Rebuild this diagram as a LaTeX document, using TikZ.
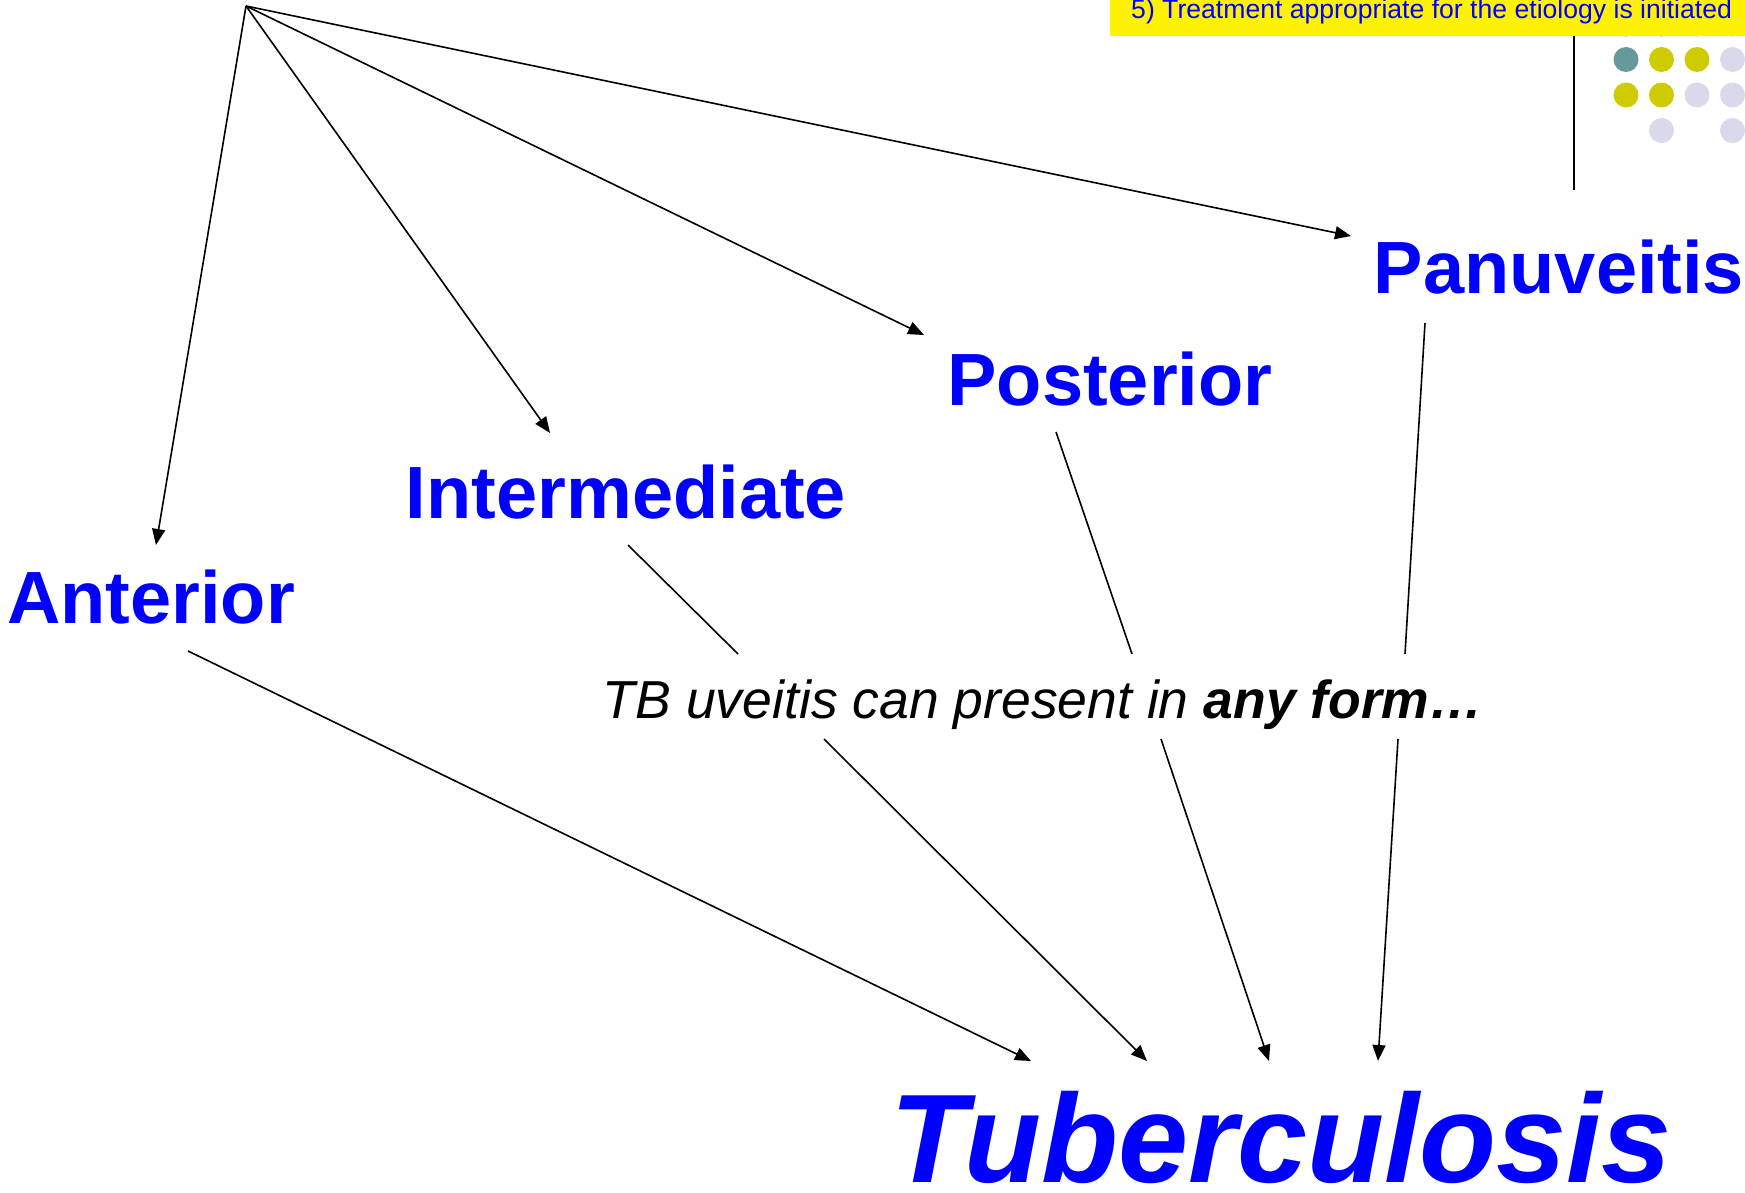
\documentclass[tikz,border=0pt]{standalone}
\usepackage{fontspec}
\setmainfont{Liberation Sans}
\usetikzlibrary{arrows.meta}
\definecolor{lblblue}{RGB}{0,0,255}
\definecolor{teal1}{RGB}{102,153,153}
\definecolor{olive1}{RGB}{206,204,0}
\definecolor{lav1}{RGB}{217,217,236}
\tikzset{
  label/.style={text=lblblue, font=\bfseries\fontsize{74}{80}\selectfont, anchor=base, inner sep=0pt},
  conn/.style={line width=1.6pt, black},
  arr/.style={conn, -{Triangle[length=16pt,width=13pt]}},
  dot/.style={circle, inner sep=0pt, minimum size=25pt},
}
\begin{document}
\begin{tikzpicture}[x=1pt,y=-1pt]
\useasboundingbox (0,0) rectangle (1745,1193);
\fill[white] (0,0) rectangle (1745,1193);
% decorative dots
\foreach \c [count=\i from 0] in {teal1,teal1,olive1,olive1}
  \node[dot, fill=\c] at (1626+35.5*\i,24) {};
\foreach \c [count=\i from 0] in {teal1,olive1,olive1,lav1}
  \node[dot, fill=\c] at (1626+35.5*\i,59.5) {};
\foreach \c [count=\i from 0] in {olive1,olive1,lav1,lav1}
  \node[dot, fill=\c] at (1626+35.5*\i,95) {};
\node[dot, fill=lav1] at (1661.5,130.5) {};
\node[dot, fill=lav1] at (1732.5,130.5) {};
% yellow box
\node[fill=yellow, anchor=north west, minimum width=635pt, minimum height=36pt, inner sep=0pt] (box) at (1110,0) {};
\node[text=lblblue, font=\fontsize{26.6}{30}\selectfont, anchor=base west, inner sep=0pt] (boxtxt) at (1131,19) {5) Treatment appropriate for the etiology is initiated};
\coordinate (vtop) at (1574,36);
\coordinate (vbot) at (1574,190);
\draw[line width=1.6pt] (vtop) -- (vbot);
% labels
\node[label] (ant) at (151,623) {Anterior};
\node[label] (int) at (626,518) {Intermediate};
\node[label] (pos) at (1110,405) {Posterior};
\node[label] (pan) at (1559,293) {Panuveitis};
\node[text=lblblue, font=\bfseries\itshape\fontsize{126}{130}\selectfont, anchor=base, inner sep=0pt] (tb) at (1281,1182) {Tuberculosis};
\node[font=\itshape\fontsize{53.5}{60}\selectfont, anchor=base, inner sep=0pt] (txt) at (1043,718) {TB uveitis can present in \textbf{any form…}};
% apex and arrow endpoints
\coordinate (apex) at (246,6);
\coordinate (antIn) at (156,545);
\coordinate (intIn) at (550,433);
\coordinate (posIn) at (924,335);
\coordinate (panIn) at (1351,236);
\draw[arr] (apex) -- (antIn);
\draw[arr] (apex) -- (intIn);
\draw[arr] (apex) -- (posIn);
\draw[arr] (apex) -- (panIn);
% lines to Tuberculosis
\coordinate (antOut) at (188,651);
\coordinate (tbA) at (1031,1061);
\draw[arr] (antOut) -- (tbA);
\coordinate (intOut) at (628,545);
\coordinate (intMid1) at (738,654);
\coordinate (intMid2) at (824,739);
\coordinate (tbB) at (1147,1061);
\draw[conn] (intOut) -- (intMid1);
\draw[arr] (intMid2) -- (tbB);
\coordinate (posOut) at (1056,432);
\coordinate (posMid1) at (1132,654);
\coordinate (posMid2) at (1161,739);
\coordinate (tbC) at (1269,1061);
\draw[conn] (posOut) -- (posMid1);
\draw[arr] (posMid2) -- (tbC);
\coordinate (panOut) at (1425,323);
\coordinate (panMid1) at (1405,654);
\coordinate (panMid2) at (1398,739);
\coordinate (tbD) at (1378,1061);
\draw[conn] (panOut) -- (panMid1);
\draw[arr] (panMid2) -- (tbD);
\end{tikzpicture}
\end{document}
